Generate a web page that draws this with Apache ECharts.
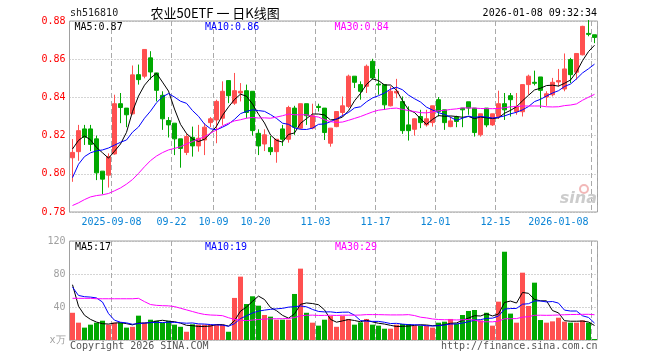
<!DOCTYPE html>
<html><head><meta charset="utf-8">
<script src="https://cdn.jsdelivr.net/npm/echarts@6/dist/echarts.min.js"></script>
<style>html,body{margin:0;padding:0;background:#fff}#c{width:660px;height:360px}</style>
</head><body><div id="c"></div>
<script>
// ---- data ----
const dates = ['2025-08-28','2025-08-29','2025-09-01','2025-09-02','2025-09-03','2025-09-04','2025-09-05','2025-09-08','2025-09-09','2025-09-10',
'2025-09-11','2025-09-12','2025-09-15','2025-09-16','2025-09-17','2025-09-18','2025-09-19','2025-09-22','2025-09-23','2025-09-24',
'2025-09-25','2025-09-26','2025-09-29','2025-09-30','2025-10-09','2025-10-10','2025-10-13','2025-10-14','2025-10-15','2025-10-16',
'2025-10-17','2025-10-20','2025-10-21','2025-10-22','2025-10-23','2025-10-24','2025-10-27','2025-10-28','2025-10-29','2025-10-30',
'2025-10-31','2025-11-03','2025-11-04','2025-11-05','2025-11-06','2025-11-07','2025-11-10','2025-11-11','2025-11-12','2025-11-13',
'2025-11-14','2025-11-17','2025-11-18','2025-11-19','2025-11-20','2025-11-21','2025-11-24','2025-11-25','2025-11-26','2025-11-27',
'2025-11-28','2025-12-01','2025-12-02','2025-12-03','2025-12-04','2025-12-05','2025-12-08','2025-12-09','2025-12-10','2025-12-11',
'2025-12-12','2025-12-15','2025-12-16','2025-12-17','2025-12-18','2025-12-19','2025-12-22','2025-12-23','2025-12-24','2025-12-25',
'2025-12-26','2025-12-29','2025-12-30','2025-12-31','2026-01-05','2026-01-06','2026-01-07','2026-01-08'];

const openP = [0.8084,0.8116,0.8235,0.8235,0.8183,0.8014,0.7993,0.8104,0.8367,0.8344,
0.8314,0.8519,0.8511,0.8607,0.8528,0.8411,0.8279,0.8265,0.8183,0.8112,
0.8191,0.8146,0.8177,0.8268,0.8282,0.8291,0.8488,0.8370,0.8423,0.8435,
0.8432,0.8212,0.8156,0.8137,0.8116,0.8235,0.8181,0.8344,0.8239,0.8367,
0.8239,0.8353,0.8344,0.8160,0.8247,0.8321,0.8353,0.8511,0.8467,0.8458,
0.8589,0.8470,0.8467,0.8356,0.8423,0.8379,0.8256,0.8233,0.8300,0.8256,
0.8268,0.8388,0.8335,0.8247,0.8297,0.8344,0.8377,0.8344,0.8204,0.8344,
0.8256,0.8300,0.8367,0.8409,0.8326,0.8325,0.8467,0.8479,0.8507,0.8402,
0.8414,0.8481,0.8444,0.8598,0.8532,0.8623,0.8735,0.8728];

const closeP = [0.8112,0.8226,0.8191,0.8154,0.8005,0.7972,0.8090,0.8367,0.8347,0.8309,
0.8518,0.8493,0.8651,0.8533,0.8437,0.8288,0.8256,0.8183,0.8133,0.8195,
0.8146,0.8186,0.8244,0.8288,0.8379,0.8432,0.8409,0.8435,0.8432,0.8321,
0.8226,0.8146,0.8204,0.8116,0.8181,0.8181,0.8347,0.8244,0.8367,0.8304,
0.8304,0.8347,0.8216,0.8239,0.8326,0.8356,0.8511,0.8479,0.8432,0.8563,
0.8502,0.8465,0.8361,0.8432,0.8432,0.8226,0.8226,0.8288,0.8268,0.8288,
0.8356,0.8326,0.8268,0.8277,0.8274,0.8335,0.8344,0.8216,0.8314,0.8256,
0.8314,0.8367,0.8335,0.8388,0.8353,0.8467,0.8511,0.8474,0.8437,0.8419,
0.8479,0.8488,0.8549,0.8519,0.8630,0.8772,0.8730,0.8714];

const lowP = [0.7958,0.8068,0.8151,0.8119,0.7967,0.7893,0.7928,0.8100,0.8265,0.8244,
0.8310,0.8467,0.8500,0.8493,0.8379,0.8230,0.8190,0.8098,0.8032,0.8098,
0.8090,0.8116,0.8098,0.8244,0.8160,0.8256,0.8370,0.8361,0.8379,0.8291,
0.8200,0.8098,0.8119,0.8098,0.8058,0.8146,0.8163,0.8204,0.8233,0.8256,
0.8233,0.8326,0.8177,0.8142,0.8244,0.8300,0.8344,0.8449,0.8388,0.8423,
0.8493,0.8414,0.8335,0.8353,0.8396,0.8209,0.8174,0.8200,0.8239,0.8247,
0.8247,0.8300,0.8230,0.8244,0.8244,0.8244,0.8309,0.8195,0.8195,0.8244,
0.8251,0.8288,0.8282,0.8300,0.8309,0.8300,0.8414,0.8463,0.8344,0.8356,
0.8405,0.8458,0.8432,0.8475,0.8493,0.8620,0.8720,0.8684];

const highP = [0.8182,0.8256,0.8256,0.8256,0.8200,0.8014,0.8107,0.8414,0.8423,0.8344,
0.8567,0.8572,0.8651,0.8642,0.8528,0.8432,0.8297,0.8265,0.8183,0.8212,
0.8247,0.8256,0.8265,0.8297,0.8388,0.8484,0.8488,0.8528,0.8475,0.8467,
0.8432,0.8233,0.8233,0.8198,0.8181,0.8256,0.8356,0.8356,0.8367,0.8367,
0.8367,0.8367,0.8344,0.8239,0.8326,0.8405,0.8519,0.8511,0.8484,0.8572,
0.8602,0.8549,0.8467,0.8458,0.8497,0.8405,0.8353,0.8290,0.8335,0.8335,
0.8356,0.8402,0.8335,0.8300,0.8304,0.8344,0.8377,0.8344,0.8314,0.8344,
0.8314,0.8435,0.8423,0.8423,0.8423,0.8467,0.8519,0.8540,0.8507,0.8432,
0.8502,0.8549,0.8630,0.8607,0.8630,0.8775,0.8805,0.8728];

const volume = [33,21,15,18.6,21,23.4,18.6,21,21,15,
16,29.5,21,24.6,23.4,21,23.4,18.6,16,10,
19,18.6,18.6,18.6,18.6,18.6,10,51,76.8,43.6,
53,41.6,30.3,28.3,24.6,24.6,24.6,55.8,86.5,33,
21,17.4,24.6,29,16,29,25.5,18.6,21.4,25.5,
18.6,17.4,13.7,13.7,18.6,19.4,19.4,17.4,17.4,17.4,
15,21,22.2,25.5,19.8,30.3,35.2,36.4,23.8,33,
17.4,46.5,107,32,21,81.6,41.2,69.5,24.2,21,
22.6,27,22.2,21,21,23.8,21,1.2];

// moving-average values at the start of the window (their earlier inputs are off-chart)
const ma5Head  = [0.8130,0.8175,0.8198,0.8178];
const ma10Head = [0.7980,0.8050,0.8090,0.8110,0.8120,0.8125,0.8135,0.8150,0.8165];
const ma30Head = [0.7834,0.7848,0.7865,0.7879,0.7886,0.7890,0.7897,0.7911,0.7926,0.7946,
0.7970,0.8002,0.8037,0.8069,0.8093,0.8111,0.8125,0.8133,0.8142,0.8156,
0.8169,0.8181,0.8195,0.8212,0.8230,0.8251,0.8265,0.8277,0.8283];
const vma5Head  = [67,41,30,25];
const vma10Head = [64,54,52.5,52,51,46,32,24,21.5];
const vma30Head = [50.5,50.5,50.5,50.5,50,50,50,50,50,50,
50,50.5,46.5,43,42,41.6,41.4,40.5,38.5,36.5,
34.5,32.5,31,30.3,30,29.5,27,25,24];

const tickDates  = ['2025-09-08','2025-09-22','2025-10-09','2025-10-20','2025-11-03','2025-11-17','2025-12-01','2025-12-15','2026-01-08'];
const tickLabels = ['2025-09-08','09-22','10-09','10-20','11-03','11-17','12-01','12-15','2026-01-08'];
const volGridDates = ['2025-09-08','2025-09-22','2025-10-20','2025-11-03','2025-11-17','2025-12-01','2025-12-15','2026-01-08'];

const headerCode = 'sh516810';
const headerTitle = '农业50ETF 一 日K线图';
const headerTime = '2026-01-08 09:32:34';
const priceMaLabels = ['MA5:0.87','MA10:0.86','MA30:0.84'];
const volMaLabels = ['MA5:17','MA10:19','MA30:29'];

// ---- chart ----
function movingAvg(src, n, head, dp) {
  return src.map((v, i) => {
    if (i < n - 1) return head[i];
    let s = 0; for (let j = i - n + 1; j <= i; j++) s += src[j];
    return +(s / n).toFixed(dp);
  });
}
const UP = '#ff5050', DOWN = '#00a800';
const MONO = '"DejaVu Sans Mono", monospace';
const kData = dates.map((d, i) => [openP[i], closeP[i], lowP[i], highP[i]]);
const isUp = dates.map((d, i) => closeP[i] >= openP[i]);

const chart = echarts.init(document.getElementById('c'), null, {renderer: 'canvas'});
const gridStyle = {show: true, borderColor: '#a0a0a0', borderWidth: 1, backgroundColor: 'transparent'};
const vDash = {color: '#aaaaaa', type: [5, 3], width: 1};
const hDot = {color: '#aaaaaa', type: [1, 2], width: 1};

function maLine(name, data, color, xi, yi) {
  return {name, type: 'line', data, xAxisIndex: xi, yAxisIndex: yi, showSymbol: false, symbol: 'none',
    lineStyle: {color, width: 1}, itemStyle: {color}, z: 5, silent: true};
}

chart.setOption({
  animation: false,
  backgroundColor: '#ffffff',
  grid: [
    Object.assign({left: 69.5, top: 21, width: 528, height: 191}, gridStyle),
    Object.assign({left: 69.5, top: 241, width: 528, height: 99}, gridStyle)
  ],
  xAxis: [
    {type: 'category', gridIndex: 0, data: dates, boundaryGap: true,
      axisLine: {show: false}, axisTick: {show: false},
      axisLabel: {interval: (i, v) => tickDates.includes(v), formatter: (v) => tickLabels[tickDates.indexOf(v)],
        color: '#0a84d6', fontFamily: MONO, fontSize: 10, margin: 5, padding: [0, 6, 0, 0], alignMaxLabel: 'right'},
      splitLine: {show: true, interval: (i, v) => tickDates.includes(v), lineStyle: vDash}},
    {type: 'category', gridIndex: 1, data: dates, boundaryGap: true,
      axisLine: {show: false}, axisTick: {show: false}, axisLabel: {show: false},
      splitLine: {show: true, interval: (i, v) => volGridDates.includes(v), lineStyle: vDash}}
  ],
  yAxis: [
    {type: 'value', gridIndex: 0, min: 0.78, max: 0.88, interval: 0.02, scale: true,
      axisLine: {show: false}, axisTick: {show: false},
      axisLabel: {color: '#ff0000', fontFamily: MONO, fontSize: 10, margin: 4, formatter: (v) => v.toFixed(2)},
      splitLine: {show: true, lineStyle: hDot}},
    {type: 'value', gridIndex: 1, min: 0, max: 120, interval: 40,
      axisLine: {show: false}, axisTick: {show: false},
      axisLabel: {color: '#a0a0a0', fontFamily: MONO, fontSize: 10, margin: 4, formatter: (v) => v === 0 ? 'x万' : String(v)},
      splitLine: {show: true, lineStyle: hDot}}
  ],
  series: [
    {type: 'candlestick', xAxisIndex: 0, yAxisIndex: 0, data: kData, barWidth: 4,
      itemStyle: {color: UP, color0: DOWN, borderColor: UP, borderColor0: DOWN, borderWidth: 1}, z: 3},
    maLine('MA5', movingAvg(closeP, 5, ma5Head, 4), '#000000', 0, 0),
    maLine('MA10', movingAvg(closeP, 10, ma10Head, 4), '#0000ff', 0, 0),
    maLine('MA30', movingAvg(closeP, 30, ma30Head, 4), '#ff00ff', 0, 0),
    {type: 'bar', xAxisIndex: 1, yAxisIndex: 1, data: volume, barWidth: 5,
      itemStyle: {color: (p) => isUp[p.dataIndex] ? UP : DOWN}, z: 3},
    maLine('VMA5', movingAvg(volume, 5, vma5Head, 2), '#000000', 1, 1),
    maLine('VMA10', movingAvg(volume, 10, vma10Head, 2), '#0000ff', 1, 1),
    maLine('VMA30', movingAvg(volume, 30, vma30Head, 2), '#ff00ff', 1, 1)
  ],
  graphic: [
    {type: 'text', x: 70, y: 13, style: {text: headerCode, font: '10px ' + MONO, fill: '#222', verticalAlign: 'middle'}},
    {type: 'text', x: 150.5, y: 13, style: {text: headerTitle, font: '13px "Noto Sans CJK SC"', fill: '#000', verticalAlign: 'middle'}},
    {type: 'text', x: 597, y: 13, style: {text: headerTime, font: '10px ' + MONO, fill: '#000', align: 'right', verticalAlign: 'middle'}},
    {type: 'text', x: 74.5, y: 27, style: {text: priceMaLabels[0], font: '10px ' + MONO, fill: '#000', verticalAlign: 'middle'}, z: 10},
    {type: 'text', x: 205, y: 27, style: {text: priceMaLabels[1], font: '10px ' + MONO, fill: '#0000ff', verticalAlign: 'middle'}, z: 10},
    {type: 'text', x: 334.5, y: 27, style: {text: priceMaLabels[2], font: '10px ' + MONO, fill: '#ff00ff', verticalAlign: 'middle'}, z: 10},
    {type: 'text', x: 75, y: 247, style: {text: volMaLabels[0], font: '10px ' + MONO, fill: '#000', verticalAlign: 'middle'}, z: 10},
    {type: 'text', x: 205, y: 247, style: {text: volMaLabels[1], font: '10px ' + MONO, fill: '#0000ff', verticalAlign: 'middle'}, z: 10},
    {type: 'text', x: 335, y: 247, style: {text: volMaLabels[2], font: '10px ' + MONO, fill: '#ff00ff', verticalAlign: 'middle'}, z: 10},
    {type: 'text', x: 70, y: 346, style: {text: 'Copyright 2026 SINA.COM', font: '10px ' + MONO, fill: '#555', verticalAlign: 'middle'}},
    {type: 'text', x: 597.5, y: 346, style: {text: 'http://finance.sina.com.cn', font: '10px ' + MONO, fill: '#555', align: 'right', verticalAlign: 'middle'}},
    {type: 'circle', shape: {cx: 584, cy: 189, r: 4}, style: {fill: 'none', stroke: '#f2b8b8', lineWidth: 2}, z: 1},
    {type: 'text', x: 597, y: 199, style: {text: 'sina', font: 'italic bold 16px "DejaVu Sans"', fill: '#cccccc', align: 'right', verticalAlign: 'middle'}, z: 1}
  ]
});
</script></body></html>
